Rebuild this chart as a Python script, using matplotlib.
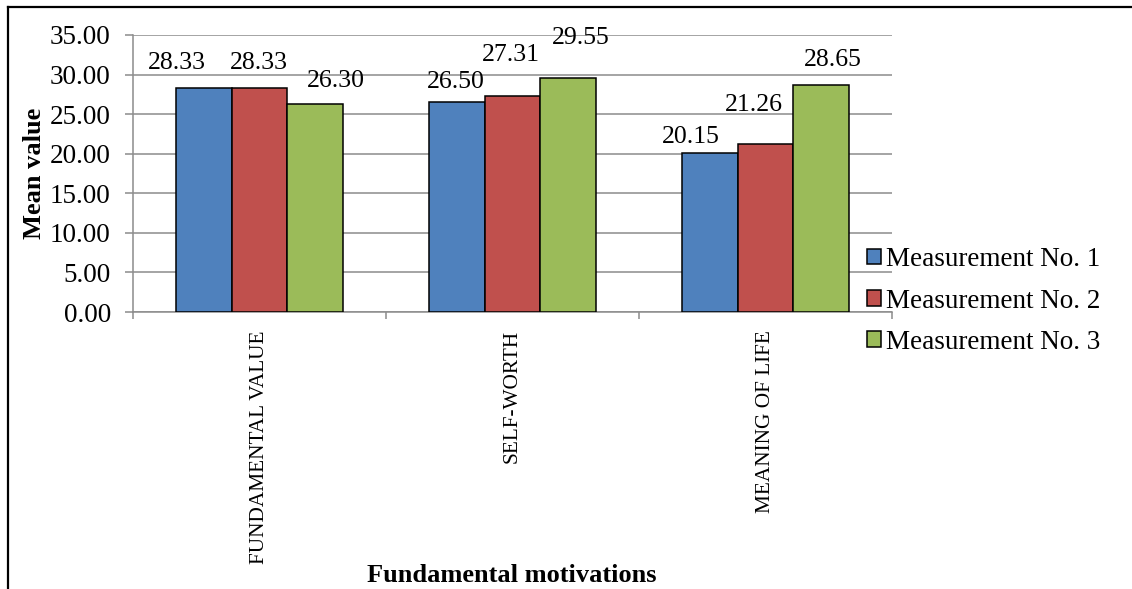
import numpy as np
import matplotlib
matplotlib.use("Agg")
import matplotlib.pyplot as plt
from matplotlib.lines import Line2D

plt.rcParams["font.family"] = "Liberation Serif"

# Mean scores per fundamental motivation, three measurements
categories = ["FUNDAMENTAL VALUE", "SELF-WORTH", "MEANING OF LIFE"]
series_names = ["Measurement No. 1", "Measurement No. 2", "Measurement No. 3"]
measurement_1 = [28.33, 26.50, 20.15]
measurement_2 = [28.33, 27.31, 21.26]
measurement_3 = [26.30, 29.55, 28.65]

colors = ["#4F81BD", "#C0504D", "#9BBB59"]
grid_gray = "#8C8C8C"

# label nudges (pixels) so the numbers don't collide, one row per series
label_offsets = [
    [(-27, 25), (-1, 20), (-19, 16)],
    [(-1, 25), (-2, 41), (-12, 39)],
    [(21, 23), (13, 40), (12, 25)],
]

fig = plt.figure(figsize=(11.32, 5.89), dpi=100)
ax = fig.add_axes([133 / 1132, 1 - 312 / 589, (892 - 133) / 1132, (312 - 35) / 589])

x = np.arange(len(categories))
width = 0.22
all_series = [measurement_1, measurement_2, measurement_3]

for i, values in enumerate(all_series):
    pos = x + (i - 1) * width
    bars = ax.bar(pos, values, width, color=colors[i], edgecolor="black",
                  linewidth=1.1, label=series_names[i], zorder=3)
    for j, (b, v) in enumerate(zip(bars, values)):
        dx, dy = label_offsets[i][j]
        ax.annotate(f"{v:.2f}", (b.get_x() + b.get_width() / 2, v),
                    xytext=(dx, dy), textcoords="offset pixels",
                    ha="center", va="center", fontsize=18.5, zorder=4)

ax.set_xlim(-0.5, 2.5)
ax.set_ylim(0, 35)
ax.set_yticks(np.arange(0, 35.1, 5))
ax.set_yticklabels([f"{t:.2f}" for t in np.arange(0, 35.1, 5)], fontsize=19.5)
ax.yaxis.grid(True, color=grid_gray, linewidth=1.1, zorder=0)

ax.set_xticks(x)
ax.set_xticklabels(categories, rotation=90, fontsize=15.3, va="top")
ax.set_xticks([-0.5, 0.5, 1.5, 2.5], minor=True)
ax.tick_params(axis="x", which="major", length=0, pad=13)
ax.tick_params(axis="x", which="minor", length=5, color=grid_gray, width=1.1)
ax.tick_params(axis="y", length=6, color=grid_gray, width=1.1, pad=10)

for side in ["top", "right"]:
    ax.spines[side].set_visible(False)
for side in ["left", "bottom"]:
    ax.spines[side].set_color(grid_gray)
    ax.spines[side].set_linewidth(1.1)

ax.set_ylabel("Mean value", fontsize=19, fontweight="bold", labelpad=3)
fig.text(512 / 1132, 1 - 576 / 589, "Fundamental motivations", fontsize=19,
         fontweight="bold", ha="center", va="center")

ax.legend(loc="center left", bbox_to_anchor=(867 / 1132, 1 - 301 / 589),
          bbox_transform=fig.transFigure, frameon=False, fontsize=19.5,
          handlelength=0.5, handleheight=0.5, handletextpad=0.2,
          labelspacing=0.6, borderpad=0, borderaxespad=0)

# outer frame: top and left edges only
fig.add_artist(Line2D([8 / 1132, 1], [1 - 7 / 589, 1 - 7 / 589], color="black",
                      linewidth=1.6, transform=fig.transFigure))
fig.add_artist(Line2D([8 / 1132, 8 / 1132], [0, 1 - 7 / 589], color="black",
                      linewidth=1.6, transform=fig.transFigure))

fig.savefig("out.png", dpi=100)
